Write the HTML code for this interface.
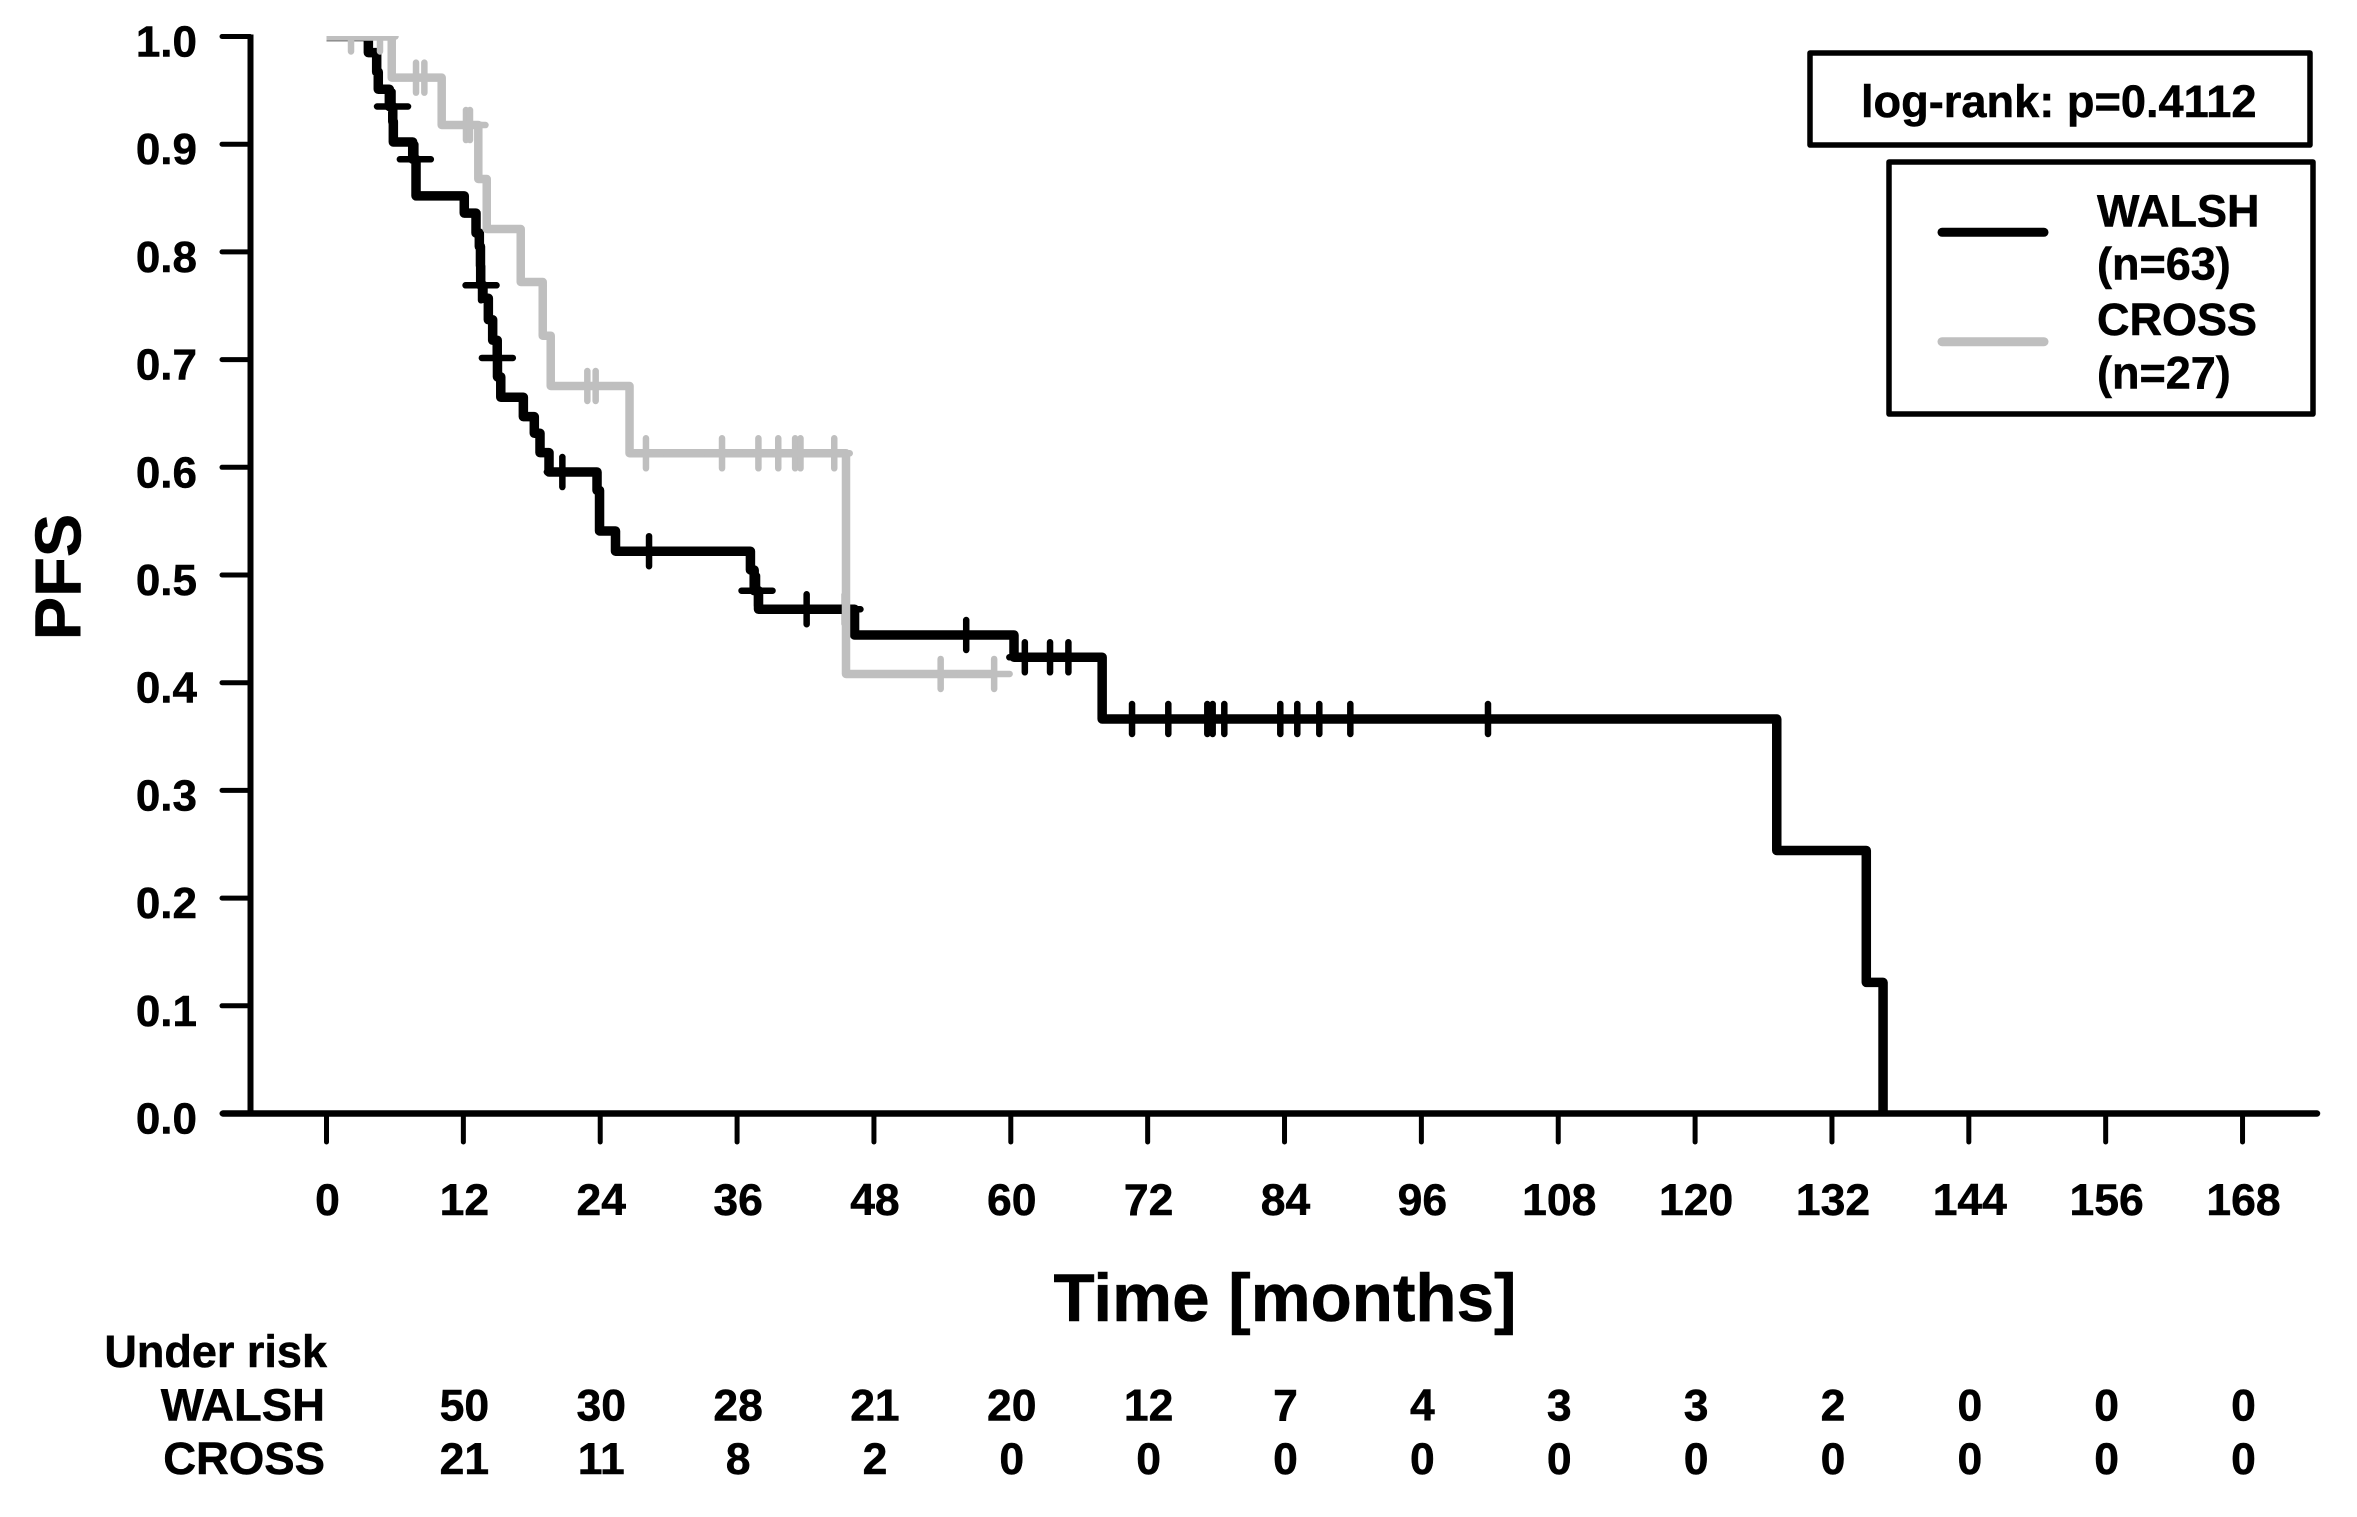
<!DOCTYPE html>
<html lang="en">
<head>
<meta charset="utf-8">
<title>PFS Kaplan-Meier chart</title>
<style>
html,body{margin:0;padding:0;background:#fff;}
svg{display:block;}
text{font-family:"Liberation Sans",Arial,sans-serif;font-weight:bold;fill:#000;stroke:#000;stroke-width:0.5px;}
</style>
</head>
<body>
<svg id="chart" xmlns="http://www.w3.org/2000/svg" width="2357" height="1517" viewBox="0 0 2357 1517">
  <rect x="0" y="0" width="2357" height="1517" fill="#fff"/>
  <defs><clipPath id="plot-clip"><rect x="240" y="36" width="2100" height="1080"/></clipPath></defs>
  <g id="axes"></g>
  <g id="series" clip-path="url(#plot-clip)"></g>
  <text transform="translate(80.5,577) rotate(-90)" text-anchor="middle" font-size="65">PFS</text>
  <text x="1285" y="1321" text-anchor="middle" font-size="67.4">Time [months]</text>

  <rect x="1810" y="53" width="500" height="92" fill="#fff" stroke="#000" stroke-width="5.5" stroke-linejoin="round"/>
  <text x="1861" y="117" font-size="45.2">log-rank: p=0.4112</text>

  <rect x="1889" y="162" width="424" height="252" fill="#fff" stroke="#000" stroke-width="5.5" stroke-linejoin="round"/>
  <line x1="1942" y1="232.3" x2="2044" y2="232.3" stroke="#000" stroke-width="9" stroke-linecap="round"/>
  <text x="2097" y="226.7" font-size="45">WALSH</text>
  <text x="2097" y="279.5" font-size="45">(n=63)</text>
  <line x1="1942" y1="341.7" x2="2044" y2="341.7" stroke="#bfbfbf" stroke-width="9" stroke-linecap="round"/>
  <text x="2097" y="335" font-size="45">CROSS</text>
  <text x="2097" y="388.3" font-size="45">(n=27)</text>

  <text x="327" y="1367" text-anchor="end" font-size="45">Under risk</text>
  <text x="325" y="1420.7" text-anchor="end" font-size="45.5">WALSH</text>
  <text x="325" y="1474" text-anchor="end" font-size="45.5">CROSS</text>
  <g id="risk"></g>
</svg>
<script>
const yTicks = ["0.0","0.1","0.2","0.3","0.4","0.5","0.6","0.7","0.8","0.9","1.0"];
const xTicks = [0,12,24,36,48,60,72,84,96,108,120,132,144,156,168];

const riskTimes = [12,24,36,48,60,72,84,96,108,120,132,144,156,168];
const riskWalsh = [50,30,28,21,20,12,7,4,3,3,2,0,0,0];
const riskCross = [21,11,8,2,0,0,0,0,0,0,0,0,0,0];

const walshTimes = [3.67,4.40,4.54,5.51,5.81,5.86,7.56,7.85,12.08,13.11,13.40,13.50,13.52,13.72,14.19,14.57,14.97,14.99,15.28,17.26,18.22,18.72,19.51,23.72,23.94,25.34,37.17,37.50,37.88,46.30,60.28,68.01,127.16,135.01,136.48];
const walshSurvival = [0.985,0.967,0.951,0.935,0.921,0.902,0.886,0.852,0.836,0.8175,0.805,0.787,0.769,0.757,0.737,0.718,0.7015,0.684,0.665,0.647,0.6316,0.6136,0.5956,0.5786,0.5409,0.5221,0.5047,0.4854,0.4682,0.4443,0.4236,0.3663,0.2442,0.1217,0];
const walshCensored = [5.79,7.79,13.55,14.98,20.68,28.28,37.75,42.10,45.46,56.09,61.23,63.44,65.05,70.63,73.81,77.23,77.70,78.72,83.63,85.12,87.05,89.77,101.84];

const crossTimes = [5.72,10.10,13.31,14.05,17.03,18.96,19.66,26.57,45.55];
const crossSurvival = [0.9618,0.9178,0.8677,0.8213,0.772,0.7222,0.6755,0.613,0.4081];
const crossCensored = [2.15,4.69,7.85,8.58,12.23,12.58,22.87,23.60,28.01,34.68,37.87,39.61,41.09,41.56,44.52,53.85,58.54];
const crossEnd = 58.54;

const NS = "http://www.w3.org/2000/svg";
const xScale = t => 326.5 + 11.405 * t;
const yScale = v => 1113.5 - 1077 * v;

function mk(tag, parent, attrs) {
  const el = document.createElementNS(NS, tag);
  for (const k in attrs) el.setAttribute(k, attrs[k]);
  parent.appendChild(el);
  return el;
}
function survivalAt(times, values, t) {
  let s = 1;
  for (let i = 0; i < times.length; i++) { if (times[i] <= t) s = values[i]; }
  return s;
}
function stepPath(times, values, end) {
  let d = "M" + xScale(0) + " " + yScale(1);
  let s = 1;
  for (let i = 0; i < times.length; i++) {
    d += "L" + xScale(times[i]) + " " + yScale(s);
    s = values[i];
    d += "L" + xScale(times[i]) + " " + yScale(s);
  }
  if (end !== null) d += "L" + xScale(end) + " " + yScale(s);
  return d;
}

const axes = document.getElementById("axes");
const yAxis = mk("line", axes, {x1:250.5, y1:yScale(1)-2, x2:250.5, y2:yScale(0), stroke:"#000", "stroke-width":6});


const xAxis = mk("line", axes, {x1:223, y1:yScale(0), x2:2317, y2:yScale(0), stroke:"#000", "stroke-width":6.5, "stroke-linecap":"round"});



yTicks.forEach(label => {
  const v = parseFloat(label);
  const tick = mk("line", axes, {x1:222, y1:yScale(v), x2:250, y2:yScale(v), stroke:"#000", "stroke-width":5, "stroke-linecap":"round"});
  
  
  const txt = mk("text", axes, {x:197, y:yScale(v)+20, "text-anchor":"end", "font-size":44});
  
  
  txt.textContent = label;
});
xTicks.forEach(t => {
  const tick = mk("line", axes, {x1:xScale(t), y1:yScale(0), x2:xScale(t), y2:1142, stroke:"#000", "stroke-width":5, "stroke-linecap":"round"});
  
  
  const txt = mk("text", axes, {x:xScale(t)+1, y:1215, "text-anchor":"middle", "font-size":44.5});
  
  
  txt.textContent = t;
});

const series = document.getElementById("series");
function drawSeries(times, values, censored, end, color, width, tickW) {
  const g = mk("g", series, {});
  const path = mk("path", g, {d:stepPath(times, values, end), fill:"none", stroke:color, "stroke-width":width, "stroke-linejoin":"round", "stroke-linecap":"butt"});
  
  
  censored.forEach(t => {
    const cx = xScale(t);
    const cy = yScale(survivalAt(times, values, t));
    const mark = mk("path", g, {d:"M"+cx+" "+(cy-15)+"V"+(cy+15)+"M"+(cx-15.5)+" "+cy+"H"+(cx+15.5), fill:"none", stroke:color, "stroke-width":tickW, "stroke-linecap":"round"});
    
    
  });
}
drawSeries(walshTimes, walshSurvival, walshCensored, null, "#000", 9.5, 6.5);
drawSeries(crossTimes, crossSurvival, crossCensored, crossEnd, "#bfbfbf", 8.5, 6.5);

const risk = document.getElementById("risk");
riskTimes.forEach((t, i) => {
  const a = mk("text", risk, {x:xScale(t)+1, y:1420.7, "text-anchor":"middle", "font-size":44.5});
  
  
  a.textContent = riskWalsh[i];
  const b = mk("text", risk, {x:xScale(t)+1, y:1474, "text-anchor":"middle", "font-size":44.5});
  
  
  b.textContent = riskCross[i];
});
</script>
</body>
</html>
